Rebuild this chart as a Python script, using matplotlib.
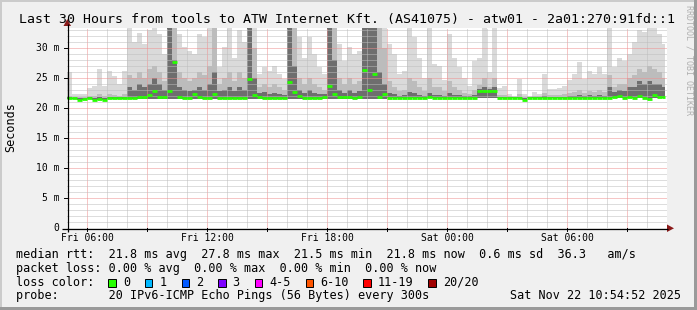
import numpy as np
import matplotlib
matplotlib.use("Agg")
import matplotlib.pyplot as plt
from matplotlib.patches import Rectangle, Polygon

W, H = 697, 310
MONO = "DejaVu Sans Mono"

# ---------------- data (15-minute buckets, ms) ----------------
median_ms = [
    21.6, 21.6, 21.4, 21.5, 21.6, 21.4, 21.5, 21.4, 21.6, 21.6,
    21.6, 21.6, 21.7, 21.7, 21.8, 21.9, 22.1, 22.8, 21.9, 21.8,
    22.8, 27.7, 21.8, 21.7, 21.6, 22.3, 21.8, 21.6, 21.7, 22.3,
    21.7, 21.6, 21.7, 21.6, 21.6, 21.6, 24.8, 22.2, 21.8, 21.7,
    21.6, 21.6, 21.6, 21.7, 24.3, 22.7, 22.0, 21.7, 21.6, 21.7,
    21.7, 21.8, 23.6, 22.3, 21.9, 21.8, 21.9, 21.7, 21.8, 26.3,
    23.0, 25.7, 21.9, 22.3, 21.7, 21.7, 21.7, 21.7, 21.7, 21.7,
    21.7, 21.7, 21.8, 21.7, 21.7, 21.7, 21.7, 21.7, 21.7, 21.7,
    21.7, 21.7, 22.9, 22.9, 22.9, 22.9, 21.7, 21.7, 21.7, 21.7,
    21.7, 21.4, 21.7, 21.7, 21.7, 21.7, 21.7, 21.7, 21.7, 21.7,
    21.7, 21.7, 21.7, 21.7, 21.7, 21.7, 21.7, 21.7, 21.7, 21.8,
    22.0, 21.7, 21.9, 21.7, 22.0, 21.7, 21.5, 22.1, 21.8, 21.8,
]
max_ms = [
    26.0, 22.4, 22.3, 22.4, 23.4, 23.7, 26.5, 23.7, 26.2, 25.4,
    24.0, 26.2, 33.4, 31.0, 32.5, 30.7, 33.0, 33.4, 32.3, 29.0,
    33.4, 33.4, 32.3, 30.2, 29.5, 29.0, 32.3, 31.8, 33.4, 33.4,
    26.8, 30.2, 33.4, 28.4, 33.0, 31.0, 33.4, 33.4, 25.7, 26.8,
    26.2, 27.0, 25.7, 24.8, 33.4, 33.4, 31.8, 28.4, 31.8, 29.0,
    26.8, 25.7, 33.4, 33.4, 30.7, 27.9, 30.2, 29.0, 29.5, 33.4,
    33.4, 33.4, 33.4, 33.4, 30.7, 29.0, 25.7, 26.2, 33.4, 31.8,
    28.4, 25.0, 33.4, 27.3, 27.0, 24.6, 32.3, 28.4, 26.8, 25.0,
    23.7, 27.9, 28.4, 33.4, 26.0, 33.4, 23.4, 23.7, 22.3, 22.0,
    24.8, 22.3, 22.0, 22.6, 22.3, 25.7, 23.2, 23.2, 23.4, 23.7,
    24.6, 25.7, 27.6, 24.8, 26.2, 25.7, 26.8, 25.7, 33.4, 26.8,
    28.4, 27.9, 29.0, 31.0, 33.0, 32.6, 33.4, 33.4, 32.3, 30.7,
]
mid_ms = [
    22.0, 21.9, 21.8, 21.8, 22.0, 22.0, 22.3, 22.0, 22.3, 22.2,
    22.0, 22.3, 25.5, 25.0, 26.0, 25.0, 26.5, 27.0, 26.0, 24.5,
    33.4, 33.4, 26.0, 25.0, 24.5, 25.0, 26.0, 25.5, 27.0, 33.4,
    24.0, 25.0, 26.0, 24.5, 26.0, 25.0, 33.4, 30.0, 23.5, 24.0,
    23.5, 24.0, 23.5, 23.0, 33.4, 33.4, 25.0, 24.0, 25.0, 24.0,
    23.5, 23.0, 33.4, 33.4, 25.0, 24.0, 25.0, 24.0, 24.5, 33.4,
    33.4, 33.4, 33.4, 30.0, 24.5, 23.5, 22.8, 23.0, 25.0, 24.5,
    23.5, 22.8, 25.0, 23.5, 23.5, 22.8, 24.5, 23.5, 23.0, 22.5,
    22.3, 23.0, 23.8, 25.0, 23.5, 25.0, 22.2, 22.2, 22.0, 21.9,
    22.3, 21.9, 21.9, 22.0, 22.0, 22.5, 22.2, 22.2, 22.2, 22.3,
    22.5, 22.6, 23.0, 22.5, 22.8, 22.6, 23.0, 22.6, 25.5, 23.5,
    24.0, 24.0, 25.0, 25.5, 26.5, 26.0, 27.0, 26.5, 26.0, 25.0,
]
dark_ms = [
    21.8, 21.7, 21.6, 21.6, 21.8, 21.7, 21.9, 21.7, 21.9, 21.8,
    21.8, 21.9, 23.5, 23.0, 24.0, 23.5, 24.0, 25.0, 24.0, 23.0,
    33.4, 28.0, 23.5, 23.0, 22.8, 23.0, 23.5, 23.0, 24.0, 26.0,
    22.8, 23.0, 23.5, 22.8, 23.5, 23.0, 33.4, 25.0, 22.5, 22.6,
    22.3, 22.5, 22.3, 22.2, 33.4, 27.0, 23.0, 22.5, 23.0, 22.5,
    22.3, 22.3, 33.4, 28.0, 23.0, 22.5, 23.0, 22.5, 22.8, 33.4,
    33.4, 33.4, 26.0, 24.0, 22.5, 22.3, 22.0, 22.1, 22.6, 22.5,
    22.2, 22.0, 22.5, 22.2, 22.2, 22.0, 22.5, 22.2, 22.1, 22.0,
    22.0, 22.1, 23.2, 23.5, 23.2, 23.5, 21.9, 21.9, 21.8, 21.8,
    21.9, 21.6, 21.8, 21.8, 21.8, 22.0, 21.9, 21.9, 21.9, 21.9,
    22.0, 22.0, 22.2, 22.0, 22.1, 22.0, 22.2, 22.0, 23.5, 22.6,
    23.0, 22.8, 23.5, 23.5, 24.5, 24.0, 24.5, 24.0, 24.0, 23.5,
]
low_ms = [
    21.5, 21.5, 21.3, 21.4, 21.5, 21.3, 21.4, 21.3, 21.5, 21.5,
    21.5, 21.5, 21.5, 21.5, 21.5, 21.5, 21.5, 21.5, 21.5, 21.5,
    21.5, 21.5, 21.5, 21.5, 21.5, 21.5, 21.5, 21.5, 21.5, 21.5,
    21.5, 21.5, 21.5, 21.5, 21.5, 21.5, 21.5, 21.5, 21.5, 21.5,
    21.5, 21.5, 21.5, 21.5, 21.5, 21.5, 21.5, 21.5, 21.5, 21.5,
    21.5, 21.5, 21.5, 21.5, 21.5, 21.5, 21.5, 21.5, 21.5, 21.5,
    21.5, 21.5, 21.5, 21.5, 21.6, 21.6, 21.6, 21.6, 21.6, 21.6,
    21.6, 21.6, 21.6, 21.6, 21.6, 21.6, 21.6, 21.6, 21.6, 21.6,
    21.6, 21.6, 21.6, 21.6, 21.6, 21.6, 21.6, 21.6, 21.6, 21.6,
    21.6, 21.3, 21.6, 21.6, 21.6, 21.6, 21.6, 21.6, 21.6, 21.6,
    21.6, 21.6, 21.6, 21.6, 21.6, 21.6, 21.6, 21.6, 21.6, 21.6,
    21.6, 21.6, 21.6, 21.6, 21.6, 21.6, 21.4, 21.6, 21.6, 21.6,
]

x_tick_hours = [1, 7, 13, 19, 25]
x_tick_labels = ["Fri 06:00", "Fri 12:00", "Fri 18:00", "Sat 00:00", "Sat 06:00"]
y_ticks = [0, 5, 10, 15, 20, 25, 30]
y_tick_labels = ["0", "5 m", "10 m", "15 m", "20 m", "25 m", "30 m"]

loss_labels = ["0", "1", "2", "3", "4-5", "6-10", "11-19", "20/20"]
loss_colors = ["#26ff00", "#00b8ff", "#0059ff", "#7e00ff", "#ff00ff", "#ff5500", "#ff0000", "#a00000"]

title = "Last 30 Hours from tools to ATW Internet Kft. (AS41075) - atw01 - 2a01:270:91fd::1"
legend_rows = [
    "median rtt:  21.8 ms avg  27.8 ms max  21.5 ms min  21.8 ms now  0.6 ms sd  36.3   am/s",
    "packet loss: 0.00 % avg  0.00 % max  0.00 % min  0.00 % now",
    "loss color:",
    "probe:       20 IPv6-ICMP Echo Pings (56 Bytes) every 300s",
]
timestamp = "Sat Nov 22 10:54:52 2025"

# ---------------- figure ----------------
fig = plt.figure(figsize=(W / 100, H / 100), dpi=100)
fig.patch.set_facecolor("#f0f0f0")

under = fig.add_axes([0, 0, 1, 1], zorder=0)
under.set_xlim(0, W); under.set_ylim(H, 0); under.axis("off")
under.add_patch(Rectangle((0, 0), W, 2, color="#cbcbcb", lw=0))
under.add_patch(Rectangle((0, 0), 2, H, color="#cbcbcb", lw=0))
under.add_patch(Rectangle((0, H - 3), W, 3, color="#9a9a9a", lw=0))
under.add_patch(Rectangle((W - 3, 0), 3, H, color="#9a9a9a", lw=0))

X0, X1, YB, YT = 67, 667, 228, 28
ax = fig.add_axes([X0 / W, 1 - YB / H, (X1 - X0) / W, (YB - YT) / H], zorder=1)
ax.set_facecolor("white")
YMAX = (YB - YT) / 6.0
ax.set_xlim(0, 30); ax.set_ylim(0, YMAX)
for s in ax.spines.values():
    s.set_visible(False)
ax.set_xticks([]); ax.set_yticks([])

n = len(median_ms)
t0 = np.arange(n) * 0.25
t1 = np.minimum(t0 + 0.25, 29.9)
xe = np.append(t0, 29.9)

def ext(a):
    a = np.asarray(a, float)
    return np.append(a, a[-1])

ax.fill_between(xe, ext(low_ms), ext(max_ms), step="post", color="#dadada", lw=0, zorder=1)
ax.fill_between(xe, ext(low_ms), ext(mid_ms), step="post", color="#bcbcbc", lw=0, zorder=1.1)
ax.fill_between(xe, ext(low_ms), ext(dark_ms), step="post", color="#6e6e6e", lw=0, zorder=1.2)

# grid (dotted, drawn over the smoke)
dot = (0, (1, 1))
for h in range(1, 31):
    major = (h % 3 == 1)
    ax.axvline(h, color="#ef8f8f" if major else "#bdbdbd", lw=0.72, ls=dot, zorder=3)
for v in range(1, 34):
    major = (v % 5 == 0)
    ax.axhline(v, color="#ef8f8f" if major else "#bdbdbd", lw=0.72, ls=dot, zorder=3)

# median line (loss 0 -> green)
ax.hlines(median_ms, t0, t1, colors=loss_colors[0], lw=2.0, zorder=4)

# ---------------- overlay (axes, arrows, text) ----------------
over = fig.add_axes([0, 0, 1, 1], zorder=5)
over.set_xlim(0, W); over.set_ylim(H, 0); over.axis("off")
over.patch.set_alpha(0)

over.plot([62, 668], [YB + 0.5, YB + 0.5], color="black", lw=0.9, solid_capstyle="butt")
over.plot([X0 + 0.5, X0 + 0.5], [232, 24], color="black", lw=0.9, solid_capstyle="butt")
over.add_patch(Polygon([(667, 224.5), (667, 232), (674, 228.3)], closed=True, color="#8b1a1a", lw=0))
over.add_patch(Polygon([(63.5, 26), (71, 26), (67.3, 19)], closed=True, color="#8b1a1a", lw=0))

for h in range(1, 30, 3):
    x = X0 + 20 * h
    over.plot([x, x], [YB, YB + 3], color="black", lw=0.7)
for v in y_ticks[1:]:
    y = YB - 6 * v
    over.plot([X0 - 3, X0], [y, y], color="black", lw=0.7)

for h, lab in zip(x_tick_hours, x_tick_labels):
    over.text(X0 + 20 * h, 233, lab, ha="center", va="top", family=MONO, fontsize=7, color="black")
for v, lab in zip(y_ticks, y_tick_labels):
    over.text(59.5, YB - 6 * v, lab, ha="right", va="center", family=MONO, fontsize=7, color="black")

over.text(11, 127, "Seconds", rotation=90, ha="center", va="center", family=MONO, fontsize=8.5)
over.text(347, 23, title, ha="center", va="baseline", family=MONO, fontsize=9.5)
over.text(689, 5, "RRDTOOL / TOBI OETIKER", rotation=270, ha="center", va="top",
          family=MONO, fontsize=6, color="#b0b0b0")

baselines = [258.3, 271.9, 285.7, 299.3]
for row, yb in zip(legend_rows, baselines):
    over.text(16, yb, row, ha="left", va="baseline", family=MONO, fontsize=8.5)
over.text(681, baselines[3], timestamp, ha="right", va="baseline", family=MONO, fontsize=8.5)

sx = 108.3
for lab, col in zip(loss_labels, loss_colors):
    over.add_patch(Rectangle((sx, 278.5), 7.5, 8, facecolor=col, edgecolor="black", lw=0.7))
    tx = sx + 14.5
    over.text(tx, baselines[2], lab, ha="left", va="baseline", family=MONO, fontsize=8.5)
    sx = tx + len(lab) * 7.1 + 15

fig.savefig("out.png", dpi=100, facecolor=fig.get_facecolor())
